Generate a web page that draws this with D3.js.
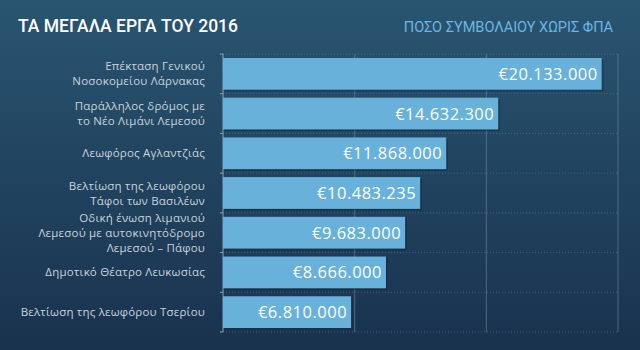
<!doctype html>
<html>
<head>
<meta charset="utf-8">
<title>Έργα 2016</title>
<script src="https://cdn.jsdelivr.net/npm/d3@7"></script>
<style>
    body { margin: 0; background: #1a3350; }
    svg { display: block; }
</style>
</head>
<body>
<svg width="640" height="350"></svg>
<script>
// data
var projects = [
    ["Επέκταση Γενικού", "Νοσοκομείου Λάρνακας"],
    ["Παράλληλος δρόμος με", "το Νέο Λιμάνι Λεμεσού"],
    ["Λεωφόρος Αγλαντζιάς"],
    ["Βελτίωση της λεωφόρου", "Τάφοι των Βασιλέων"],
    ["Οδική ένωση λιμανιού", "Λεμεσού με αυτοκινητόδρομο", "Λεμεσού – Πάφου"],
    ["Δημοτικό Θέατρο Λευκωσίας"],
    ["Βελτίωση της λεωφόρου Τσερίου"]
];
var amounts = [20133000, 14632300, 11868000, 10483235, 9683000, 8666000, 6810000];
var gridTicks = [7000000, 14000000, 21000000];

var svg = d3.select("svg"),
    width = +svg.attr("width"),
    height = +svg.attr("height");

// background gradient
var defs = svg.append("defs");
var grad = defs.append("linearGradient").attr("id", "bg")
    .attr("x1", 0).attr("y1", 0).attr("x2", 0).attr("y2", 1);
grad.append("stop").attr("offset", "0%").attr("stop-color", "#295571");
grad.append("stop").attr("offset", "100%").attr("stop-color", "#19324e");
svg.append("rect").attr("width", width).attr("height", height).attr("fill", "url(#bg)");

svg.append("text")
    .attr("x", 18).attr("y", 32)
    .attr("fill", "#ffffff")
    .attr("font-family", "Roboto, sans-serif")
    .attr("font-size", 17.5)
    .attr("font-weight", 500)
    .text("ΤΑ ΜΕΓΑΛΑ ΕΡΓΑ ΤΟΥ 2016");

svg.append("text")
    .attr("x", 613).attr("y", 32)
    .attr("text-anchor", "end")
    .attr("fill", "#6db5e2")
    .attr("font-family", "Roboto, sans-serif")
    .attr("font-size", 14.5)
    .text("ΠΟΣΟ ΣΥΜΒΟΛΑΙΟΥ ΧΩΡΙΣ ΦΠΑ");

var x = d3.scaleLinear().domain([0, 21000000]).range([223, 618]);
var y = d3.scaleBand().domain(d3.range(amounts.length)).range([54, 332])
    .paddingInner(0.2).paddingOuter(0.1);
var step = y.step();

// vertical grid
svg.append("g").selectAll("line")
    .data(gridTicks)
    .enter().append("line")
    .attr("x1", function(d) { return x(d); })
    .attr("x2", function(d) { return x(d); })
    .attr("y1", 54).attr("y2", 332)
    .attr("stroke", "#6f8aa0").attr("stroke-opacity", 0.6).attr("stroke-width", 1);

// horizontal dotted grid at band boundaries
var bounds = d3.range(amounts.length + 1).map(function(i) { return 54 + i * step; });
svg.append("g").selectAll("line")
    .data(bounds)
    .enter().append("line")
    .attr("x1", x(0) - 3).attr("x2", x(21000000))
    .attr("y1", function(d) { return d; })
    .attr("y2", function(d) { return d; })
    .attr("stroke", "#6f8aa0").attr("stroke-opacity", 0.45)
    .attr("stroke-dasharray", "1,2");

// left axis line with ticks
svg.append("line")
    .attr("x1", x(0)).attr("x2", x(0)).attr("y1", 54).attr("y2", 332)
    .attr("stroke", "#8aa0b2").attr("stroke-width", 1);
svg.append("g").selectAll("line")
    .data(bounds)
    .enter().append("line")
    .attr("x1", x(0) - 3).attr("x2", x(0))
    .attr("y1", function(d) { return d; })
    .attr("y2", function(d) { return d; })
    .attr("stroke", "#8aa0b2");

// bars
var rows = svg.append("g").selectAll("g")
    .data(amounts)
    .enter().append("g");

rows.append("rect")
    .attr("x", x(0) + 1.5)
    .attr("y", function(d, i) { return y(i) + 1.5; })
    .attr("width", function(d) { return x(d) - x(0); })
    .attr("height", y.bandwidth())
    .attr("fill", "#10243a").attr("fill-opacity", 0.5);

rows.append("rect")
    .attr("x", x(0))
    .attr("y", function(d, i) { return y(i); })
    .attr("width", function(d) { return x(d) - x(0); })
    .attr("height", y.bandwidth())
    .attr("fill", "#68b1da");

var fmt = d3.formatLocale({ decimal: ",", thousands: ".", grouping: [3], currency: ["€", ""] }).format("$,d");

rows.append("text")
    .attr("x", function(d) { return x(d) - 4; })
    .attr("y", function(d, i) { return y(i) + y.bandwidth() / 2; })
    .attr("dy", "0.36em")
    .attr("text-anchor", "end")
    .attr("fill", "#ffffff")
    .attr("font-family", "'Open Sans', sans-serif")
    .attr("font-size", 16.5)
    .attr("letter-spacing", 0.5)
    .text(function(d) { return fmt(d); });

// category labels
var labels = svg.append("g").selectAll("text")
    .data(projects)
    .enter().append("text")
    .attr("text-anchor", "end")
    .attr("fill", "#c9d3dc")
    .attr("font-family", "'Open Sans', sans-serif")
    .attr("font-size", 11.5)
    .attr("letter-spacing", 0.2);

labels.each(function(lines, i) {
    var cy = 54 + i * step + step / 2;
    var lh = 15;
    d3.select(this).selectAll("tspan")
        .data(lines)
        .enter().append("tspan")
        .attr("x", 205)
        .attr("y", function(d, j) { return cy + (j - (lines.length - 1) / 2) * lh; })
        .attr("dy", "0.35em")
        .text(function(d) { return d; });
});
</script>
</body>
</html>
